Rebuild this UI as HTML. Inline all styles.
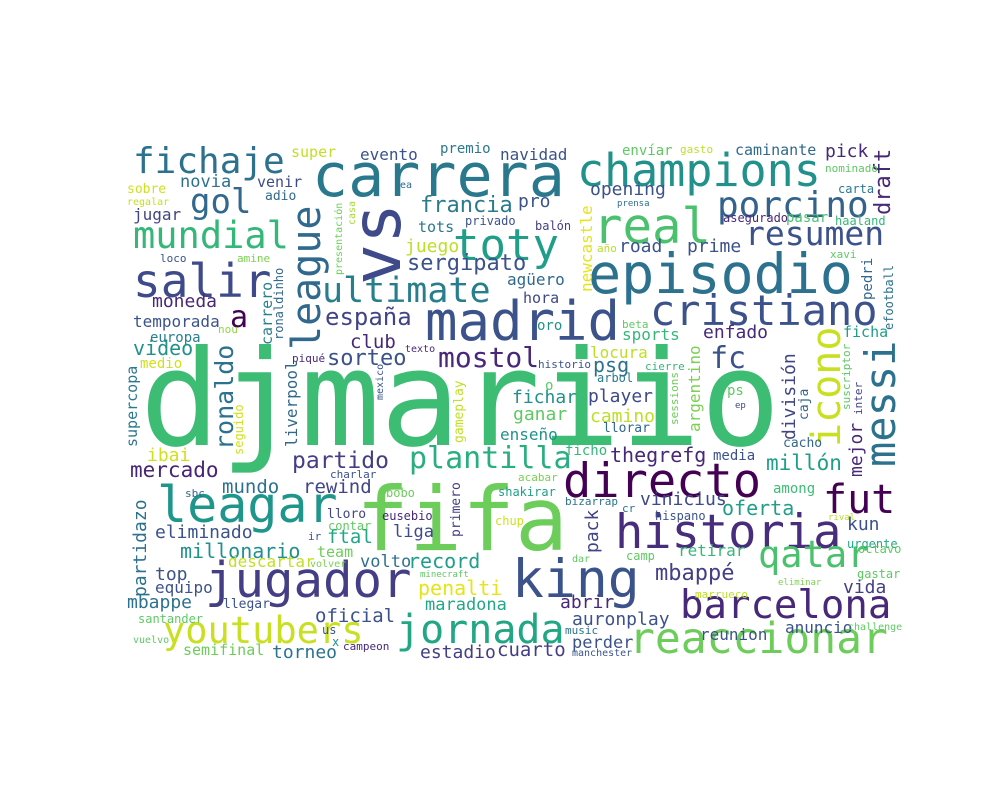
<!DOCTYPE html>
<html><head><meta charset="utf-8">
<style>
html,body{margin:0;padding:0;background:#fff;}
svg{display:block;}
text{font-family:"DejaVu Sans Mono","Liberation Mono",monospace;}
</style></head>
<body>
<svg id="cloud" width="1000" height="800" viewBox="0 0 1000 800" xmlns="http://www.w3.org/2000/svg">
<rect x="0" y="0" width="1000" height="800" fill="#ffffff"/>
<g id="words"></g>
</svg>
<script>
const words = [
"djmariio","fifa","carrera","champions","episodio","real","vs","madrid","league","toty",
"porcino","fichaje","gol","mundial","salir","a","ultimate","cristiano","resumen","draft",
"icono","messi","fc","mostol","españa","sergipato","francia","pro","directo","fut",
"historia","leagar","jugador","king","jornada","youtubers","qatar","barcelona","reaccionar","plantilla",
"partido","ronaldo","división","mercado","mbappé","super","evento","premio","navidad","envíar",
"gasto","caminante","pick","novia","venir","adio","sobre","regalar","ea","opening",
"nominado","carta","jugar","tots","privado","balón","juego","newcastle","asegurado","pasar",
"haaland","road","prime","agüero","xavi","año","presentación","casa","moneda","temporada",
"europa","nou","carrero","ronaldinho","hora","oro","enfado","pedri","efootball","beta",
"ficha","locura","historio","video","medio","sorteo","club","fichar","player","camino",
"ganar","argentino","texto","piqué","mexico","liverpool","supercopa","ibai","seguido","gameplay",
"sessions","cierre","arbol","ps","caja","ep","inter","suscriptor","thegrefg","mejor",
"millón","mundo","rewind","enseño","llorar","ficho","media","sbc","charlar","bobo",
"acabar","shakirar","among","partidazo","ftal","lloro","eliminado","millonario","vinicius","oferta",
"bizarrap","cr","contar","eusebio","primero","pack","kun","urgente","rival","team",
"top","equipo","descartar","volto","record","chup","camp","retirar","octavo","dar",
"gastar","eliminar","vida","ir","penalti","psg","sports","mbappe","santander","vuelvo",
"semifinal","llegar","oficial","torneo","us","x","campeon","maradona","liga","estadio",
"cuarto","auronplay","abrir","perder","reunion","anuncio","music","manchester","marrueco","challenge",
"hispano","loco","amine","cacho","volver","minecraft","prensa","o"];
const sizes = [
133,88,60,45,55,49,68,54,40,44,
36,36,34,37,46,30,35,42,33,22,
40,42,30,28,24,22,22,18,47,40,
47,50,49,53,40,37,37,39,43,30,
23,25,18,21,22,15,16,14,16,14,
11,15,18,17,15,13,13,10,10,18,
11,12,16,15,12,12,18,16,12,14,
12,18,18,16,11,11,10,10,18,16,
14,11,15,12,15,14,18,14,12,11,
15,16,11,20,14,22,19,18,18,18,
18,16,10,11,10,16,15,18,12,13,
11,11,12,14,13,9,11,11,20,18,
21,19,19,16,13,14,14,11,11,12,
11,12,14,18,19,13,18,20,18,20,
11,11,12,12,13,18,18,12,9,15,
18,16,16,17,20,12,12,16,12,10,
12,9,18,11,20,20,16,18,12,10,
15,13,19,18,12,12,11,17,17,18,
19,18,18,17,16,16,11,10,11,10,
12,11,11,13,10,9,9,14];
const colors = [
"#3dbc74","#6ccd5a","#2a788e","#21918c","#2c728e","#4ac16d","#3e4a89","#3b528b","#30688e","#1f9e89",
"#33638d","#2c718e","#31688e","#35b779","#3e4a89","#440154","#277f8e","#3b528b","#3b528b","#482878",
"#c8e020","#2c728e","#3b528b","#482878","#414487","#3b528b","#2a7b8e","#3b528b","#440154","#440154",
"#472d7b","#1f968b","#433e85","#3b528b","#22a785","#c8e020","#4ac16d","#482878","#6ccd5a","#29af7f",
"#433e85","#2c718e","#414487","#482475","#433e85","#c2df23","#3b528b","#2a788e","#3b528b","#5ec962",
"#bddf26","#31688e","#482878","#2c718e","#3e4a89","#31688e","#d0e11c","#c2df23","#31688e","#3b528b",
"#5ec962","#2a788e","#414487","#2a788e","#3b528b","#433e85","#bddf26","#e5e419","#482878","#4ac16d",
"#35b779","#3b528b","#3b528b","#31688e","#5ec962","#b5de2b","#6ccd5a","#a5db36","#482878","#3b528b",
"#277f8e","#8fd744","#277f8e","#31688e","#3f4788","#21918c","#482878","#31688e","#2c728e","#5ec962",
"#1f9e89","#bddf26","#3b528b","#21918c","#d0e11c","#3b528b","#482878","#21918c","#3e4989","#bddf26",
"#5ec962","#7ad151","#482878","#482878","#3b528b","#31688e","#2a788e","#d0e11c","#d2e21b","#c2df23",
"#6ccd5a","#35b779","#2a788e","#5ec962","#31688e","#3e4989","#414487","#5ec962","#482878","#482878",
"#1f9e89","#2c728e","#404688","#21918c","#31688e","#35b779","#3b528b","#31688e","#3b528b","#6ccd5a",
"#7ad151","#1f9e89","#3dbc74","#2c718e","#22a785","#404688","#3b528b","#21918c","#3e4a89","#1f9e89",
"#2c728e","#2c718e","#5ec962","#482878","#433e85","#414487","#3b528b","#22a785","#b5de2b","#6ccd5a",
"#3b528b","#3b528b","#c2df23","#2c728e","#1f9e89","#d0e11c","#5ec962","#35b779","#5ec962","#5ec962",
"#5ec962","#7ad151","#433e85","#3b528b","#e5e419","#2c728e","#35b779","#2c728e","#5ec962","#5ec962",
"#6ccd5a","#3b528b","#3b528b","#2c728e","#3b528b","#21918c","#482878","#22a785","#3e4a89","#433e85",
"#433e85","#3b528b","#482878","#3b528b","#3b528b","#3b528b","#2c728e","#3b528b","#bddf26","#5ec962",
"#3b528b","#3b528b","#7ad151","#31688e","#7ad151","#5ec962","#2c718e","#5ec962"];
const rotations = [
0,0,0,0,0,0,-90,0,-90,0,
0,0,0,0,0,0,0,0,0,-90,
-90,-90,0,0,0,0,0,0,0,0,
0,0,0,0,0,0,0,0,0,0,
0,-90,-90,0,0,0,0,0,0,0,
0,0,0,0,0,0,0,0,0,0,
0,0,0,0,0,0,0,-90,0,0,
0,0,0,0,0,0,-90,-90,0,0,
0,0,-90,-90,0,0,0,-90,-90,0,
0,0,0,0,0,0,0,0,0,0,
0,-90,0,0,-90,-90,-90,0,-90,-90,
-90,0,0,0,-90,0,-90,-90,0,-90,
0,0,0,0,0,0,0,0,0,0,
0,0,0,-90,0,0,0,0,0,0,
0,0,0,0,-90,-90,0,0,0,0,
0,0,0,0,0,0,0,0,0,0,
0,0,0,0,0,0,0,0,0,0,
0,0,0,0,0,0,0,0,0,0,
0,0,0,0,0,0,0,0,0,0,
0,0,0,0,0,0,0,0];
// layout: anchor x and baseline y
const layoutX = [
140,356,312,577,588,593,400,425,320,453,
717,133,190,133,133,230,322,650,745,890,
840,895,710,438,325,407,420,518,563,823,
615,157,205,512,396,163,758,680,629,409,
292,233,795,130,655,291,360,440,500,622,
680,735,825,180,257,265,127,127,400,590,
825,838,133,418,465,535,405,592,723,786,
835,619,687,507,830,597,342,355,152,133,
150,218,272,283,523,537,703,872,893,622,
843,590,538,133,140,327,350,512,588,590,
513,700,405,292,383,297,137,147,243,463,
678,645,597,727,808,735,862,850,610,862,
766,222,303,500,603,565,713,185,330,386,
518,498,773,146,327,327,155,180,640,722,
565,622,328,382,460,598,847,847,828,317,
155,155,228,360,408,495,626,678,858,572,
857,778,843,308,418,593,622,127,138,133,
183,223,315,272,322,332,343,425,393,420,
497,572,560,572,700,785,565,572,695,848,
655,160,237,783,310,420,617,545];
const layoutY = [
445,550,196,186,293,243,285,340,350,260,
217,173,213,248,297,327,302,325,245,215,
447,467,368,367,325,270,212,207,497,513,
548,522,597,597,643,643,567,618,653,468,
468,450,440,477,580,157,160,153,160,155,
153,155,157,187,187,200,193,205,188,195,
172,193,220,232,225,230,252,292,222,222,
225,252,252,285,258,252,275,225,307,327,
342,333,345,340,303,330,338,300,330,328,
337,358,368,355,368,365,348,403,402,422,
420,432,352,362,400,447,447,461,455,443,
425,370,382,395,420,408,415,410,462,477,
470,493,493,440,432,455,460,497,478,497,
481,496,493,597,543,518,538,558,505,515,
505,512,530,520,537,553,530,548,520,557,
580,593,567,567,568,525,560,556,553,562,
578,585,593,540,595,372,340,608,623,643,
655,608,622,658,634,646,650,610,537,658,
656,625,608,648,640,633,634,656,598,630,
520,262,262,447,567,577,206,390];

const NS = "http://www.w3.org/2000/svg";
const g = document.getElementById("words");
for (let i = 0; i < words.length; i++) {
  const t = document.createElementNS(NS, "text");
  t.setAttribute("x", layoutX[i]);
  t.setAttribute("y", layoutY[i]);
  t.setAttribute("font-size", sizes[i]);
  t.setAttribute("fill", colors[i]);
  if (rotations[i] !== 0) {
    t.setAttribute("transform", "rotate(" + rotations[i] + " " + layoutX[i] + " " + layoutY[i] + ")");
  }
  t.textContent = words[i];
  
  
  g.appendChild(t);
}
</script>
</body></html>
